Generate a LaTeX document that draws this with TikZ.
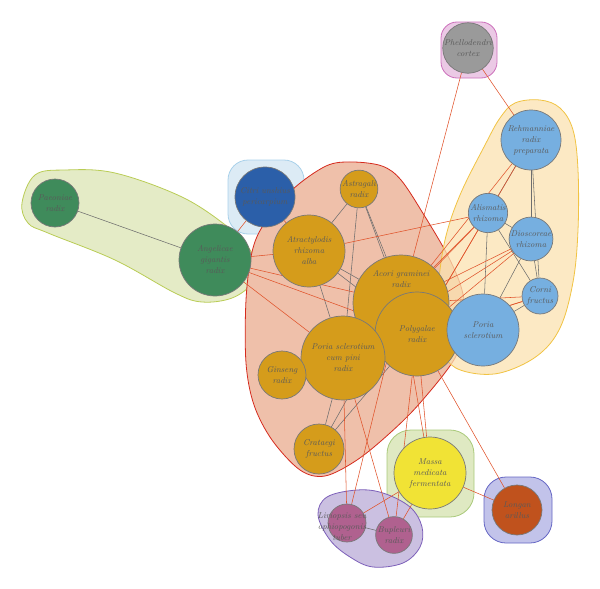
\documentclass[tikz,border=0pt]{standalone}
\usetikzlibrary{backgrounds}
\definecolor{gfill}{HTML}{E4EBC6}\definecolor{gbord}{HTML}{B9CC55}
\definecolor{bfill}{HTML}{DCEBF5}\definecolor{bbord}{HTML}{A9D1EA}
\definecolor{pfill}{HTML}{EBC9E5}\definecolor{pbord}{HTML}{CC6FBB}
\definecolor{rfill}{HTML}{EFC0AA}\definecolor{rbord}{HTML}{D52B1E}
\definecolor{yfill}{HTML}{FBE2B0}\definecolor{ybord}{HTML}{F1C343}
\definecolor{mfill}{HTML}{DFE9C2}\definecolor{mbord}{HTML}{A9C97A}
\definecolor{vfill}{HTML}{CBC0E1}\definecolor{vbord}{HTML}{7C5FB9}
\definecolor{lfill}{HTML}{C2C3EA}\definecolor{lbord}{HTML}{6566C4}
\definecolor{greenN}{HTML}{3F8B5B}
\definecolor{citriN}{HTML}{2B5FA9}
\definecolor{goldN}{HTML}{D59C1B}
\definecolor{blueN}{HTML}{76AFE0}
\definecolor{grayN}{HTML}{9A9A9A}
\definecolor{yellowN}{HTML}{F1E335}
\definecolor{mauveN}{HTML}{B0618F}
\definecolor{longanN}{HTML}{C0521D}
\definecolor{nborder}{HTML}{787878}
\definecolor{txt}{HTML}{595959}
\definecolor{gline}{HTML}{6E6E6E}
\definecolor{rline}{HTML}{E0532B}
\pgfdeclarelayer{blobs}\pgfdeclarelayer{edges}
\pgfsetlayers{blobs,edges,main}
\begin{document}
\begin{tikzpicture}[x=1pt,y=-1pt,
  herb/.style={circle, draw=nborder, line width=0.7pt, inner sep=0pt, align=center,
    text=txt, font=\fontsize{8.5}{11}\selectfont\itshape},
  herbtext/.style={align=center, text=txt, inner sep=0pt, font=\fontsize{8.5}{11}\selectfont\itshape},
  gedge/.style={draw=gline, line width=0.55pt},
  redge/.style={draw=rline, line width=0.55pt},
  blob/.style={line width=0.8pt}
]
\useasboundingbox (0,0) rectangle (600,589);

% ---------- nodes ----------
\node[herb, fill=grayN, minimum size=40pt] (phel) at (468,48) {Phellodendri\\cortex};
\node[herb, fill=greenN, minimum size=48pt] (paeo) at (55,203) {Paeoniae\\radix};
\node[herb, fill=greenN, minimum size=72pt] (ange) at (215,260) {Angelicae\\gigantis\\radix};
\node[herb, fill=citriN, minimum size=60pt] (citr) at (265,197) {Citri unshius\\pericarpium};
\node[herb, fill=goldN, minimum size=36pt] (astr) at (359,189) {Astragali\\radix};
\node[herb, fill=goldN, minimum size=72pt] (atra) at (309,251) {Atractylodis\\rhizoma\\alba};
\node[herb, fill=goldN, minimum size=96pt] (acor) at (401,303) {};
\node[herb, fill=goldN, minimum size=84pt] (poly) at (417,334) {Polygalae\\radix};
\node[herbtext] (acort) at (401,279) {Acori graminei\\radix};
\node[herb, fill=goldN, minimum size=84pt] (pcp) at (343,358) {Poria sclerotium\\cum pini\\radix};
\node[herb, fill=goldN, minimum size=48pt] (gins) at (282,375) {Ginseng\\radix};
\node[herb, fill=goldN, minimum size=50pt] (crat) at (319,449) {Crataegi\\fructus};
\node[herb, fill=yellowN, minimum size=72pt] (mass) at (430,473) {Massa\\medicata\\fermentata};
\node[herb, fill=mauveN, minimum size=38pt] (liri) at (347,523) {};
\node[herbtext] (lirit) at (342,527) {Liriopsis seu\\ophiopogonis\\tuber};
\node[herb, fill=mauveN, minimum size=36pt] (bupl) at (394,535) {Bupleuri\\radix};
\node[herb, fill=longanN, minimum size=50pt] (long) at (517,510) {Longan\\arillus};
\node[herb, fill=blueN, minimum size=60pt] (rehm) at (531,140) {Rehmanniae\\radix\\preparata};
\node[herb, fill=blueN, minimum size=36pt] (alis) at (488,213) {Alismatis\\rhizoma};
\node[herb, fill=blueN, minimum size=36pt] (dios) at (531,239) {Dioscoreae\\rhizoma};
\node[herb, fill=blueN, minimum size=36pt] (corn) at (540,296) {Corni\\fructus};
\node[herb, fill=blueN, minimum size=72pt] (psc) at (483,330) {Poria\\sclerotium};

% ---------- group blobs ----------
\begin{pgfonlayer}{blobs}
\draw[blob, fill=gfill, draw=gbord] plot[smooth cycle, tension=0.6] coordinates {
  (22,203) (35,175) (65,170) (115,173) (182,197) (228,227) (248,247) (255,263)
  (252,283) (232,298) (202,302) (175,293) (115,260) (48,233) (28,223)};
\draw[blob, fill=bfill, draw=bbord, rounded corners=20pt] (228,160) rectangle (304,234);
\draw[blob, fill=pfill, draw=pbord, rounded corners=16pt] (441,22) rectangle (497,78);
\draw[blob, fill=rfill, draw=rbord] plot[smooth cycle, tension=0.55] coordinates {
  (352,162) (382,166) (401,180) (424,215) (448,256) (462,290) (465,322) (455,358)
  (420,403) (390,433) (357,460) (325,476) (300,470) (272,440) (254,405) (246,363)
  (246,300) (252,252) (264,224) (292,190) (326,166)};
\draw[blob, fill=yfill, fill opacity=0.75, draw=ybord] plot[smooth cycle, tension=0.6] coordinates {
  (515,103) (540,100) (560,108) (573,130) (578,170) (578,230) (573,282) (560,328)
  (537,356) (500,373) (467,372) (447,360) (438,330) (438,290) (445,240) (460,195)
  (485,145) (500,118)};
\draw[blob, fill=mfill, draw=mbord, rounded corners=24pt] (387,430) rectangle (474,517);
\draw[blob, fill=vfill, draw=vbord] plot[smooth cycle, tension=0.6] coordinates {
  (318,515) (327,497) (357,490) (383,493) (410,507) (422,527) (420,547) (403,563)
  (373,567) (350,557) (330,540)};
\draw[blob, fill=lfill, draw=lbord, rounded corners=22pt] (484,477) rectangle (552,543);
\end{pgfonlayer}

% ---------- connectors ----------
\begin{pgfonlayer}{edges}
% within groups (gray)
\draw[gedge] (paeo) -- (ange);
\draw[gedge] (astr) -- (atra);
\draw[gedge] (astr) -- (pcp);
\draw[gedge] (astr) -- (acor);
\draw[gedge] (astr) -- (poly);
\draw[gedge] (atra) -- (acor);
\draw[gedge] (atra) -- (poly);
\draw[gedge] (atra) -- (pcp);
\draw[gedge] (gins) -- (pcp);
\draw[gedge] (acor) -- (pcp);
\draw[gedge] (crat) -- (pcp);
\draw[gedge] (crat) -- (poly);
\draw[gedge] (crat) -- (acor);
\draw[gedge] (rehm) -- (alis);
\draw[gedge] (rehm) -- (dios);
\draw[gedge] (rehm) -- (corn);
\draw[gedge] (alis) -- (dios);
\draw[gedge] (alis) -- (corn);
\draw[gedge] (alis) -- (psc);
\draw[gedge] (dios) -- (corn);
\draw[gedge] (dios) -- (psc);
\draw[gedge] (corn) -- (psc);
\draw[gedge] (liri) -- (bupl);
% between groups (red)
\draw[redge] (phel) -- (acor);
\draw[redge] (phel) -- (rehm);
\draw[redge] (citr) -- (ange);
\draw[redge] (citr) -- (atra);
\draw[redge] (ange) -- (atra);
\draw[redge] (ange) -- (acor);
\draw[redge] (ange) -- (pcp);
\draw[redge] (ange) -- (poly);
\draw[redge] (acor) -- (rehm);
\draw[redge] (poly) -- (rehm);
\draw[redge] (acor) -- (alis);
\draw[redge] (poly) -- (alis);
\draw[redge] (pcp) -- (alis);
\draw[redge] (atra) -- (alis);
\draw[redge] (acor) -- (dios);
\draw[redge] (poly) -- (dios);
\draw[redge] (pcp) -- (dios);
\draw[redge] (acor) -- (corn);
\draw[redge] (poly) -- (corn);
\draw[redge] (pcp) -- (corn);
\draw[redge] (acor) -- (psc);
\draw[redge] (pcp) -- (psc);
\draw[redge] (pcp) -- (liri);
\draw[redge] (acor) -- (liri);
\draw[redge] (pcp) -- (bupl);
\draw[redge] (poly) -- (bupl);
\draw[redge] (poly) -- (mass);
\draw[redge] (acor) -- (mass);
\draw[redge] (poly) -- (long);
\draw[redge] (mass) -- (long);
\draw[redge] (mass) -- (liri);
\draw[redge] (mass) -- (bupl);
\end{pgfonlayer}
\end{tikzpicture}
\end{document}
